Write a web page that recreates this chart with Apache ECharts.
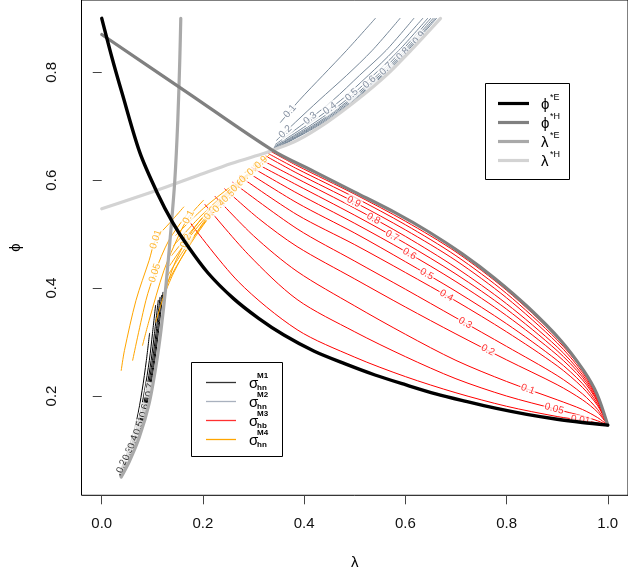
<!DOCTYPE html>
<html>
<head>
<meta charset="utf-8">
<script src="https://cdn.jsdelivr.net/npm/echarts@6/dist/echarts.min.js"></script>
<style>
html,body{margin:0;padding:0;background:#fff}
#chart{width:628px;height:578px}
</style>
</head>
<body>
<div id="chart"></div>
<script>
// ---- axes ----
const xTicks = [0, 0.2, 0.4, 0.6, 0.8, 1.0];
const yTicks = [0.2, 0.4, 0.6, 0.8];

// ---- boundary curves (lambda, phi) ----
const phiE = [[0,0.9],[0.02,0.828],[0.04,0.762],[0.075,0.652],[0.11,0.576],[0.14,0.522],[0.17,0.478],[0.21,0.428],[0.26,0.381],[0.31,0.344],[0.36,0.313],[0.42,0.283],[0.48,0.26],[0.54,0.239],[0.6,0.221],[0.66,0.204],[0.72,0.19],[0.78,0.177],[0.84,0.166],[0.9,0.157],[0.95,0.151],[1.0,0.146]];
const phiH = [[0,0.87],[0.17,0.762],[0.3377,0.6554],[0.42,0.616],[0.5,0.578],[0.5817,0.539],[0.6467,0.504],[0.7118,0.464],[0.777,0.418],[0.8421,0.365],[0.9072,0.303],[0.9525,0.247],[0.9785,0.204],[1.0,0.146]];
const lamE = [[0.0385,0.0499],[0.0547,0.079],[0.0742,0.1234],[0.0937,0.1865],[0.1074,0.2569],[0.1171,0.3218],[0.1269,0.4052],[0.1366,0.5071],[0.1444,0.5997],[0.1503,0.711],[0.1542,0.8221],[0.1562,0.9]];
const lamH = [[0,0.547],[0.061,0.566],[0.126,0.587],[0.191,0.609],[0.256,0.631],[0.3215,0.65],[0.3377,0.6554],[0.3865,0.674],[0.445,0.7073],[0.5036,0.7481],[0.5622,0.7944],[0.611,0.8408],[0.6695,0.9]];

// ---- sigma M1 contours (black) ----
const m1Levels = ['0.2','0.3','0.4','0.5','0.6','0.7'];
const m1_02 = [[0.0371,0.0623],[0.0519,0.0994],[0.0689,0.155],[0.0798,0.2105],[0.0882,0.2661],[0.0945,0.3162]];
const m1_03 = [[0.0355,0.0549],[0.0549,0.0994],[0.0728,0.155],[0.0847,0.2105],[0.0941,0.2661],[0.1003,0.3162],[0.1064,0.368]];
const m1_04 = [[0.0361,0.053],[0.0568,0.0994],[0.0757,0.155],[0.0882,0.2105],[0.0976,0.2661],[0.1042,0.3162],[0.1117,0.3774]];
const m1_05 = [[0.0367,0.0512],[0.0586,0.0994],[0.0779,0.155],[0.0906,0.2105],[0.1003,0.2661],[0.1072,0.3162],[0.1152,0.383]];
const m1_06 = [[0.0377,0.0512],[0.0601,0.0994],[0.0798,0.155],[0.0929,0.2105],[0.1027,0.2661],[0.1095,0.3162],[0.1183,0.3866]];
const m1_07 = [[0.0385,0.0512],[0.0615,0.0994],[0.0816,0.155],[0.0949,0.2105],[0.1048,0.2661],[0.1117,0.3162],[0.121,0.3922]];
const m1LabelAt = [0.040, 0.052, 0.062, 0.073, 0.084, 0.095];

// ---- sigma M2 contours (slate) ----
const m2Levels = ['0.1','0.2','0.3','0.4','0.5','0.6','0.7','0.8','0.9'];
const m2_01 = [[0.3533,0.7073],[0.3904,0.7481],[0.4372,0.7944],[0.4841,0.8408],[0.5407,0.9]];
const m2_02 = [[0.3455,0.674],[0.3826,0.7073],[0.4294,0.7481],[0.4841,0.7944],[0.5348,0.8408],[0.5895,0.9]];
const m2_03 = [[0.3435,0.6666],[0.4021,0.7073],[0.4568,0.7481],[0.5095,0.7944],[0.5622,0.8408],[0.6168,0.9]];
const m2_04 = [[0.3416,0.6629],[0.4138,0.7073],[0.4724,0.7481],[0.527,0.7944],[0.5778,0.8408],[0.6344,0.9]];
const m2_05 = [[0.3416,0.661],[0.4216,0.7073],[0.4822,0.7481],[0.5368,0.7944],[0.5875,0.8408],[0.6441,0.9]];
const m2_06 = [[0.3396,0.6592],[0.4275,0.7073],[0.488,0.7481],[0.5446,0.7944],[0.5934,0.8408],[0.65,0.9]];
const m2_07 = [[0.3396,0.6573],[0.4314,0.7073],[0.4919,0.7481],[0.5495,0.7944],[0.5983,0.8408],[0.6549,0.9]];
const m2_08 = [[0.3396,0.6564],[0.4353,0.7073],[0.4958,0.7481],[0.5534,0.7944],[0.6022,0.8408],[0.6588,0.9]];
const m2_09 = [[0.3377,0.6554],[0.4392,0.7073],[0.4987,0.7481],[0.5563,0.7944],[0.6051,0.8408],[0.6617,0.9]];
const m2LabelAt = [0.372, 0.363, 0.412, 0.451, 0.494, 0.529, 0.562, 0.595, 0.627];

// ---- sigma M3 contours (red) ----
const m3Levels = ['0.01','0.05','0.1','0.2','0.3','0.4','0.5','0.6','0.7','0.8','0.9','0.95','0.99'];
const m3_001 = [[0.1685,0.529],[0.27,0.412],[0.386,0.323],[0.5,0.272],[0.6,0.236],[0.7,0.206],[0.8,0.181],[0.9,0.162],[0.95,0.155],[0.98,0.15],[1,0.146]];
const m3_005 = [[0.204,0.555],[0.29,0.462],[0.386,0.379],[0.5,0.319],[0.6,0.273],[0.7,0.232],[0.8,0.2],[0.9,0.175],[0.95,0.163],[0.98,0.154],[1,0.146]];
const m3_01 = [[0.224,0.57],[0.3,0.497],[0.386,0.431],[0.5,0.367],[0.6,0.3145],[0.7,0.266],[0.8,0.227],[0.9,0.193],[0.95,0.175],[0.98,0.16],[1,0.146]];
const m3_02 = [[0.243,0.584],[0.31,0.529],[0.386,0.477],[0.5,0.417],[0.6,0.365],[0.7,0.315],[0.8,0.267],[0.9,0.221],[0.95,0.193],[0.98,0.17],[1,0.146]];
const m3_03 = [[0.259,0.596],[0.386,0.51],[0.5,0.45],[0.6,0.398],[0.7,0.345],[0.8,0.292],[0.9,0.238],[0.95,0.204],[0.98,0.175],[1,0.146]];
const m3_04 = [[0.273,0.607],[0.386,0.536],[0.5,0.4805],[0.6,0.429],[0.7,0.376],[0.8,0.319],[0.9,0.256],[0.95,0.216],[0.98,0.182],[1,0.146]];
const m3_05 = [[0.286,0.616],[0.386,0.558],[0.5,0.502],[0.6,0.449],[0.7,0.394],[0.8,0.334],[0.9,0.266],[0.95,0.223],[0.98,0.185],[1,0.146]];
const m3_06 = [[0.296,0.624],[0.386,0.576],[0.5,0.52],[0.6,0.468],[0.7,0.412],[0.8,0.349],[0.9,0.276],[0.95,0.23],[0.98,0.189],[1,0.146]];
const m3_07 = [[0.305,0.631],[0.386,0.591],[0.5,0.535],[0.6,0.483],[0.7,0.426],[0.8,0.361],[0.9,0.284],[0.95,0.235],[0.98,0.191],[1,0.146]];
const m3_08 = [[0.315,0.638],[0.386,0.603],[0.5,0.548],[0.6,0.496],[0.7,0.438],[0.8,0.371],[0.9,0.291],[0.95,0.2395],[0.98,0.194],[1,0.146]];
const m3_09 = [[0.324,0.645],[0.386,0.613],[0.5,0.559],[0.6,0.508],[0.7,0.451],[0.8,0.382],[0.9,0.2985],[0.95,0.244],[0.98,0.196],[1,0.146]];
const m3_095 = [[0.33,0.649],[0.386,0.621],[0.5,0.568],[0.6,0.5175],[0.7,0.46],[0.8,0.39],[0.9,0.304],[0.95,0.248],[0.98,0.198],[1,0.146]];
const m3_099 = [[0.335,0.653],[0.386,0.627],[0.5,0.574],[0.6,0.524],[0.7,0.467],[0.8,0.396],[0.9,0.3085],[0.95,0.25],[0.98,0.1995],[1,0.146]];
const m3LabelAt = [0.946, 0.894, 0.842, 0.763, 0.718, 0.681, 0.642, 0.608, 0.574, 0.537, 0.498, null, null];

// ---- sigma M4 contours (orange) ----
const m4Levels = ['0.01','0.05','0.1','0.2','0.3','0.4','0.5','0.6','0.7','0.8','0.9'];
const m4_001 = [[0.0385,0.2475],[0.0449,0.2846],[0.0677,0.3773],[0.0937,0.4515],[0.1068,0.4905],[0.136,0.5225],[0.162,0.5503]];
const m4_005 = [[0.0611,0.2662],[0.0873,0.3773],[0.1048,0.428],[0.1327,0.4886],[0.1718,0.5405]];
const m4_01 = [[0.0806,0.2939],[0.0937,0.3403],[0.123,0.4329],[0.1523,0.4978],[0.1718,0.5318],[0.2011,0.5628]];
const m4_02 = [[0.1068,0.3372],[0.1197,0.3774],[0.1425,0.4422],[0.1665,0.4873],[0.1913,0.522],[0.2206,0.5535]];
const m4_03 = [[0.123,0.3866],[0.1425,0.4292],[0.1718,0.4793],[0.2011,0.522],[0.2303,0.5572],[0.2538,0.5813]];
const m4_04 = [[0.1269,0.4052],[0.1523,0.4478],[0.1854,0.4961],[0.2167,0.5368],[0.2459,0.5665],[0.2694,0.5887]];
const m4_05 = [[0.1308,0.4237],[0.162,0.4701],[0.1972,0.5146],[0.2303,0.5517],[0.2616,0.5813],[0.285,0.6035]];
const m4_06 = [[0.1347,0.4422],[0.1718,0.4924],[0.2108,0.5368],[0.2459,0.5702],[0.2791,0.5998],[0.3006,0.6183]];
const m4_07 = [[0.1386,0.4608],[0.1815,0.5109],[0.2245,0.5554],[0.2635,0.5887],[0.2987,0.6183],[0.3143,0.6313]];
const m4_08 = [[0.1425,0.4793],[0.1913,0.5294],[0.2401,0.572],[0.283,0.6054],[0.3162,0.635],[0.326,0.6424]];
const m4_09 = [[0.1464,0.4979],[0.2011,0.5479],[0.2557,0.5887],[0.3026,0.622],[0.3319,0.648]];
const m4LabelAt = [0.1068, 0.1048, 0.1718, 0.1665, 0.2147, 0.232, 0.25, 0.268, 0.285, 0.30, 0.315];

const FONT = '"Liberation Sans", Arial, Helvetica, sans-serif';
const COL = {
  phiE: '#000000', phiH: '#808080', lamE: '#a9a9a9', lamH: '#d3d3d3',
  m1: '#000000', m2: '#778899', m3: '#ff0000', m4: '#ffa500'
};

const groups = [
  { lines: [m1_02, m1_03, m1_04, m1_05, m1_06, m1_07], levels: m1Levels, at: m1LabelAt, color: COL.m1, labelColor: '#000' },
  { lines: [m2_01, m2_02, m2_03, m2_04, m2_05, m2_06, m2_07, m2_08, m2_09], levels: m2Levels, at: m2LabelAt, color: COL.m2, labelColor: '#66748a' },
  { lines: [m3_001, m3_005, m3_01, m3_02, m3_03, m3_04, m3_05, m3_06, m3_07, m3_08, m3_09, m3_095, m3_099], levels: m3Levels, at: m3LabelAt, color: COL.m3, labelColor: '#ff0000' },
  { lines: [m4_001, m4_005, m4_01, m4_02, m4_03, m4_04, m4_05, m4_06, m4_07, m4_08, m4_09], levels: m4Levels, at: m4LabelAt, color: COL.m4, labelColor: '#ffa500' }
];

const chart = echarts.init(document.getElementById('chart'), null, { renderer: 'canvas' });

function lineSeries(data, color, width, z, smooth) {
  return {
    type: 'line', data: data, showSymbol: false, symbol: 'none', silent: true,
    smooth: smooth, z: z, animation: false,
    lineStyle: { color: color, width: width, cap: 'round', join: 'round' }
  };
}

const series = [];
groups.forEach(g => g.lines.forEach(l => series.push(lineSeries(l, g.color, 1, 2, 0.3))));
series.push(lineSeries(lamH, COL.lamH, 3.2, 5, 0.3));
series.push(lineSeries(lamE, COL.lamE, 3.2, 6, 0.3));
series.push(lineSeries(phiH, COL.phiH, 3.2, 7, 0.3));
series.push(lineSeries(phiE, COL.phiE, 3.4, 8, 0.3));

// legend boxes
function legendGraphics() {
  const els = [];
  // upper legend
  els.push({ type: 'rect', shape: { x: 485.5, y: 83.5, width: 84, height: 96 }, style: { fill: '#fff', stroke: '#000', lineWidth: 1 }, z: 20 });
  const upper = [
    { y: 103.5, c: COL.phiE, s: 'ϕ', sup: '*E' },
    { y: 122.5, c: COL.phiH, s: 'ϕ', sup: '*H' },
    { y: 141.5, c: COL.lamE, s: 'λ', sup: '*E' },
    { y: 160.5, c: COL.lamH, s: 'λ', sup: '*H' }
  ];
  upper.forEach(e => {
    els.push({ type: 'line', shape: { x1: 498, y1: e.y, x2: 529, y2: e.y }, style: { stroke: e.c, lineWidth: 3.2 }, z: 21 });
    els.push({ type: 'text', x: 541, y: e.y + 1, style: { text: e.s, font: '15px ' + FONT, fill: '#000', textVerticalAlign: 'middle' }, z: 21 });
    els.push({ type: 'text', x: 550, y: e.y - 6, style: { text: e.sup, font: '9px ' + FONT, fill: '#000', textVerticalAlign: 'middle' }, z: 21 });
  });
  // lower legend
  els.push({ type: 'rect', shape: { x: 191.5, y: 362.5, width: 91, height: 94 }, style: { fill: '#fff', stroke: '#000', lineWidth: 1 }, z: 20 });
  const lower = [
    { y: 382.5, c: '#333333', sup: 'M1', sub: 'hn' },
    { y: 401.5, c: '#a9b1be', sup: 'M2', sub: 'hn' },
    { y: 420.5, c: '#ff3030', sup: 'M3', sub: 'hb' },
    { y: 439.5, c: '#ffa500', sup: 'M4', sub: 'hn' }
  ];
  lower.forEach(e => {
    els.push({ type: 'line', shape: { x1: 206, y1: e.y, x2: 236, y2: e.y }, style: { stroke: e.c, lineWidth: 1.3 }, z: 21 });
    els.push({ type: 'text', x: 249, y: e.y + 1, style: { text: 'σ', font: '15px ' + FONT, fill: '#000', textVerticalAlign: 'middle' }, z: 21 });
    els.push({ type: 'text', x: 257, y: e.y - 7, style: { text: e.sup, font: 'bold 8px ' + FONT, fill: '#000', textVerticalAlign: 'middle' }, z: 21 });
    els.push({ type: 'text', x: 257, y: e.y + 5, style: { text: e.sub, font: 'bold 8px ' + FONT, fill: '#000', textVerticalAlign: 'middle' }, z: 21 });
  });
  return els;
}

const option = {
  animation: false,
  backgroundColor: '#fff',
  grid: { left: 81.5, top: 0, width: 553.3, height: 495.3, show: true, borderColor: '#000', borderWidth: 1, backgroundColor: 'transparent', containLabel: false },
  xAxis: {
    type: 'value', min: -0.04, max: 1.04,
    name: 'λ', nameLocation: 'middle', nameGap: 60,
    nameTextStyle: { fontFamily: FONT, fontSize: 15, color: '#000' },
    axisLine: { show: false }, splitLine: { show: false },
    axisTick: { show: true, length: 9, customValues: xTicks, lineStyle: { color: '#444', width: 1 } },
    axisLabel: { customValues: xTicks, formatter: v => v.toFixed(1), margin: 21, fontFamily: FONT, fontSize: 15, color: '#111' }
  },
  yAxis: {
    type: 'value', min: 0.016, max: 0.934,
    name: 'ϕ', nameLocation: 'middle', nameGap: 58, nameRotate: 90,
    nameTextStyle: { fontFamily: FONT, fontSize: 15, color: '#000' },
    axisLine: { show: false }, splitLine: { show: false },
    axisTick: { show: true, length: 9, customValues: yTicks, lineStyle: { color: '#444', width: 1 } },
    axisLabel: { customValues: yTicks, formatter: v => v.toFixed(1), rotate: 90, margin: 22, fontFamily: FONT, fontSize: 15, color: '#111' }
  },
  series: series,
  graphic: legendGraphics()
};
chart.setOption(option);

// contour labels: placed on each line at a given lambda, turned along the line
function labelPoint(pts, x) {
  for (let i = 0; i < pts.length - 1; i++) {
    const a = pts[i], b = pts[i + 1];
    if (x >= a[0] && x <= b[0]) {
      const t = (x - a[0]) / (b[0] - a[0]);
      const y = a[1] + t * (b[1] - a[1]);
      const pa = chart.convertToPixel({ gridIndex: 0 }, a);
      const pb = chart.convertToPixel({ gridIndex: 0 }, b);
      const ang = -Math.atan2(pb[1] - pa[1], pb[0] - pa[0]) * 180 / Math.PI;
      return { value: [x, y], ang: ang };
    }
  }
  return null;
}

const labelSeries = groups.map(g => {
  const data = [];
  g.lines.forEach((l, i) => {
    if (g.at[i] == null) return;
    const p = labelPoint(l, g.at[i]);
    if (!p) return;
    data.push({ value: p.value, label: { formatter: g.levels[i], rotate: p.ang } });
  });
  return {
    type: 'scatter', data: data, symbolSize: 0, silent: true, z: 4,
    label: { show: true, position: 'inside', fontFamily: FONT, fontSize: 10, color: g.labelColor, backgroundColor: '#fff', padding: [0, 1] }
  };
});
chart.setOption({ series: series.concat(labelSeries) });
</script>
</body>
</html>
